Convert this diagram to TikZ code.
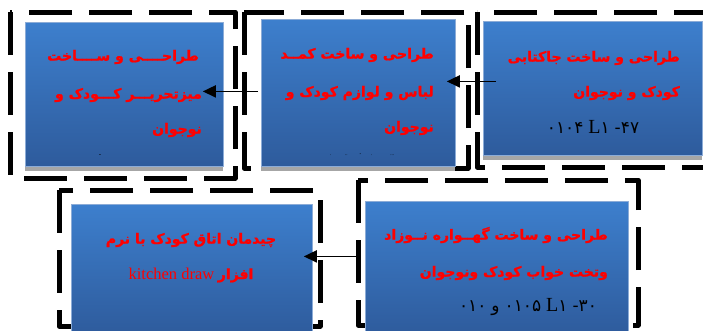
\documentclass[tikz,border=0pt]{standalone}
\usepackage{fontspec}
\setmainfont{Liberation Serif}
\newfontfamily\farsi[Script=Arabic,BoldFeatures={FakeBold=1.2}]{DejaVu Sans}
\TeXXeTstate=1
\usetikzlibrary{arrows.meta,shadows}
\definecolor{boxtop}{RGB}{61,127,205}
\definecolor{boxbot}{RGB}{46,91,156}
\definecolor{boxline}{RGB}{140,172,215}
\newcommand{\fa}[1]{{\farsi\bfseries\beginR #1\endR}}
\newcommand{\fd}[1]{{\farsi\fontsize{17}{17}\selectfont #1}}
\begin{document}
\begin{tikzpicture}[x=1pt,y=-1pt,line join=round,>={Triangle[length=13pt,width=12pt]}]
	\tikzset{panel/.style={rectangle,anchor=north west,top color=boxtop,bottom color=boxbot,draw=boxline,line width=0.8pt,inner sep=0pt,
			drop shadow={shadow xshift=0pt,shadow yshift=-5pt,fill=black!35,opacity=1}},
		frame/.style={draw,line width=5pt,dash pattern=on 43pt off 17pt},
		redline/.style={text=red,font=\fontsize{14}{15}\selectfont,inner sep=0pt},
		numline/.style={text=black,font=\fontsize{20}{20}\selectfont,inner sep=0pt},
		link/.style={->,line width=1.8pt}}
	\useasboundingbox (0,0) rectangle (703,330);
	% dashed frames
	\draw[frame] (10,12) rectangle (235,178);
	\draw[frame] (244,12) rectangle (468,168);
	\draw[frame] (477,12) rectangle (712,167);
	\draw[frame] (59,190) rectangle (320,326);
	\draw[frame] (358,180) rectangle (638,325);
	% boxes
	\node[panel,minimum width=198pt,minimum height=144pt] (desk) at (25,22) {};
	\node[panel,minimum width=194pt,minimum height=147pt] (closet) at (261,19) {};
	\node[panel,minimum width=219pt,minimum height=134pt] (jacket) at (483,21) {};
	\node[panel,minimum width=241pt,minimum height=131pt] (room) at (71,204) {};
	\node[panel,minimum width=263pt,minimum height=134pt] (crib) at (365,201) {};
	% texts
	\node[redline,anchor=east] (desk1) at (199,57) {\fa{طراحــــی و ســــاخت}};
	\node[redline,anchor=east] (desk2) at (202,95) {\fa{میزتحریـــر کـــودک و}};
	\node[redline,anchor=east] (desk3) at (202,130) {\fa{نوجوان}};
	\node[text=black,inner sep=0pt,font=\fontsize{7}{7}\selectfont] (desk4) at (100,156) {-};
	\node[redline,anchor=east] (closet1) at (434,55) {\fa{طراحی و ساخت کمــد}};
	\node[redline,anchor=east] (closet2) at (434,93) {\fa{لباس و لوازم کودک و}};
	\node[redline,anchor=east] (closet3) at (434,128) {\fa{نوجوان}};
	\node[text=black,inner sep=0pt,font=\fontsize{5}{5}\selectfont] (closet4) at (362,155) {.\hspace{14pt}..\hspace{12pt}\textbf{-}\hspace{10pt}.\hspace{18pt}...};
	\node[redline,anchor=east] (jacket1) at (680,58) {\fa{طراحی و ساخت جاکتابی}};
	\node[redline,anchor=east] (jacket2) at (680,93) {\fa{کودک و نوجوان}};
	\node[numline] (jacket3) at (593,127) {\beginR\fd{۴۷}\fd{-} \fd{۱}L \fd{۰۱۰۴}\endR};
	\node[redline] (room1) at (191,240) {\fa{چیدمان اتاق کودک با نرم}};
	\node[redline] (room2) at (191,275) {{\fontsize{16.5}{16}\selectfont kitchen draw} \fa{افزار}};
	\node[redline,anchor=east] (crib1) at (608,235) {\fa{طراحی و ساخت گهــواره نــوزاد}};
	\node[redline,anchor=east] (crib2) at (608,273) {\fa{وتخت خواب کودک ونوجوان}};
	\node[numline] (crib3) at (528,307) {\beginR\fd{۳۰}\fd{-} \fd{۱}L \fd{۰۱۰۵} \fd{و} \fd{۰۱۰}\endR};
	% arrows
	\draw[link] ([xshift=13pt,yshift=7pt]jacket.west) -- ([xshift=-9pt,yshift=11.5pt]closet.east);
	\draw[link] ([xshift=-3pt,yshift=1.5pt]closet.west) -- ([xshift=-21pt,yshift=3pt]desk.east);
	\draw[link] ([xshift=-5pt,yshift=12pt]crib.west) -- ([xshift=-9pt,yshift=13.5pt]room.east);
\end{tikzpicture}
\end{document}
